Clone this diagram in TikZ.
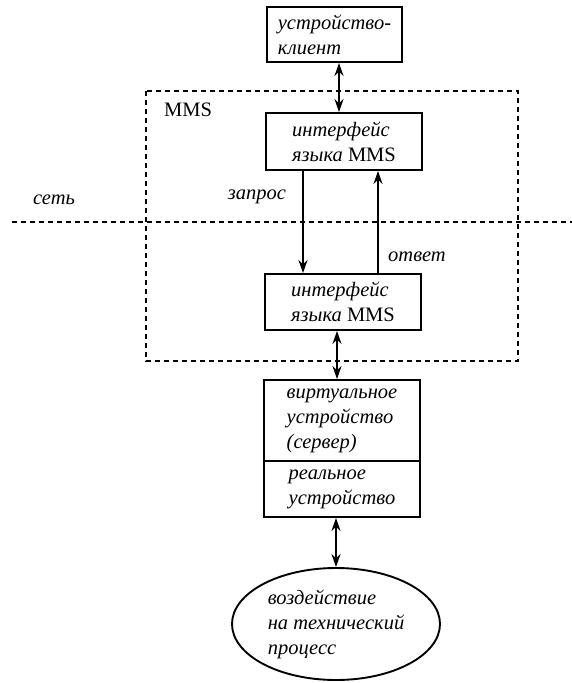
\documentclass[tikz,border=0pt]{standalone}
\usepackage{fontspec}
\setmainfont{Liberation Serif}
\usetikzlibrary{shapes.geometric,arrows.meta,calc}
\begin{document}
\begin{tikzpicture}[x=1pt,y=-1pt,
  box/.style={draw,line width=1.9pt,rectangle,inner sep=0pt,align=left,
    font=\fontsize{20.5}{25}\selectfont\itshape},
  lbl/.style={inner sep=0pt,font=\fontsize{20.5}{25}\selectfont\itshape},
  dsh/.style={line width=1.2pt,dash pattern=on 5pt off 4pt},
  conn/.style={line width=1.8pt,-{Stealth[length=13pt,width=9pt]}},
  dconn/.style={line width=1.8pt,{Stealth[length=13pt,width=9pt]}-{Stealth[length=13pt,width=9pt]}}]
\useasboundingbox (0,0) rectangle (572,683);
% MMS region and network line
\draw[dsh] (146,91) rectangle (518,361);
\coordinate (netL) at (12,222);
\coordinate (netR) at (572,222);
\draw[dsh] (netL) -- (netR);
\node[inner sep=0pt,font=\fontsize{20.5}{25}\selectfont] (mms) at (188,110) {MMS};
\node[lbl] (net) at (54,200) {сеть};
% boxes
\node[box,minimum width=135pt,minimum height=55pt] (client) at (334.5,34.5) {устройство-\\клиент};
\node[box,minimum width=156pt,minimum height=57pt] (if1) at (344,141.5) {интерфейс\\языка \upshape MMS};
\node[box,minimum width=156pt,minimum height=56pt] (if2) at (343,302) {интерфейс\\языка \upshape MMS};
\node[box,minimum width=156pt,minimum height=81pt] (virt) at (342,420.5) {виртуальное\\устройство\\(сервер)};
\node[box,minimum width=156pt,minimum height=56pt] (real) at (342,489) {реальное\\устройство};
\node[box,ellipse,minimum width=208pt,minimum height=112pt] (proc) at (336,624) {воздействие\\на технический\\процесс};
% connectors
\draw[dconn] ([xshift=4.5pt]client.south) -- ([xshift=-5pt]if1.north);
\draw[conn] ([xshift=-41pt]if1.south) -- ([xshift=-40pt]if2.north);
\draw[conn] ([xshift=35pt]if2.north) -- ([xshift=34pt]if1.south);
\node[lbl] (req) at (257,197) {запрос};
\node[lbl] (resp) at (417,257) {ответ};
\draw[dconn] ([xshift=-6pt]if2.south) -- ([xshift=-5pt]virt.north);
\draw[dconn] ([xshift=-6pt]real.south) -- (proc.north);
\end{tikzpicture}
\end{document}
